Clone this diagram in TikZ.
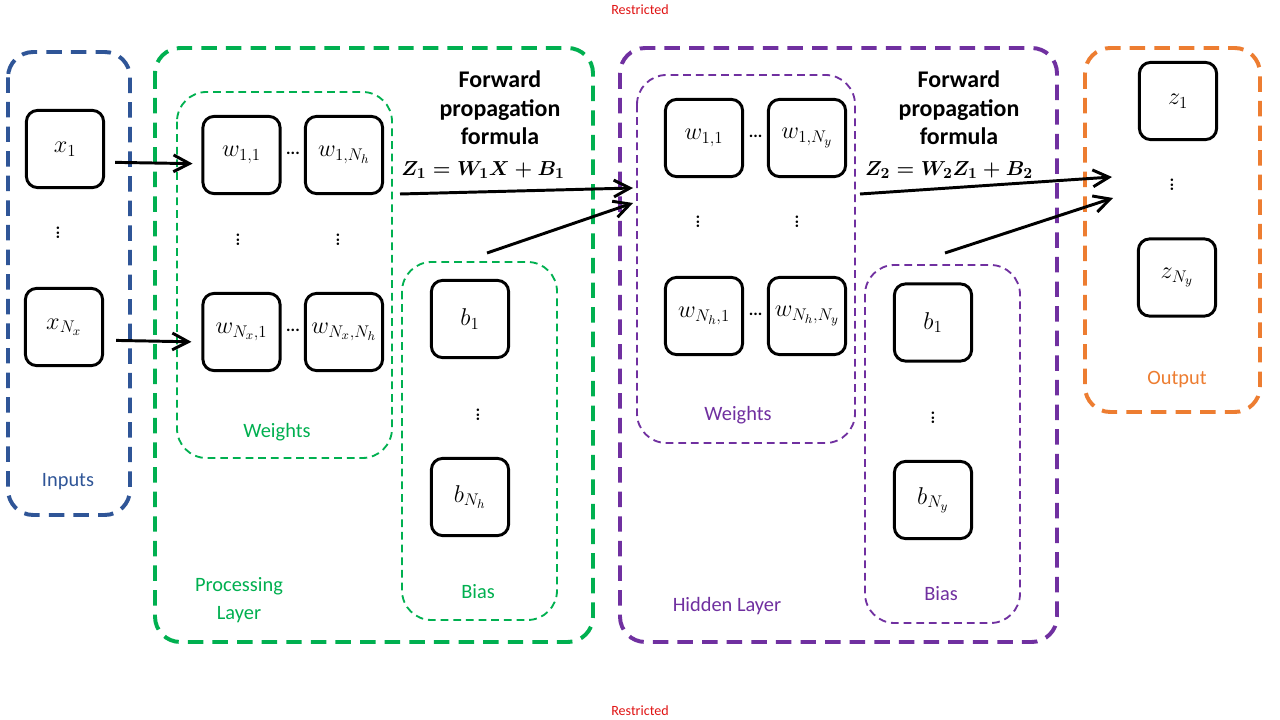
\documentclass[tikz,border=0pt]{standalone}
\usepackage{amssymb,amsmath}
\usepackage{xcolor}
\usepackage{fontspec}
\setmainfont{Carlito}
\usetikzlibrary{arrows.meta}
\definecolor{Azul}{RGB}{47, 85, 151}
\definecolor{Verde}{RGB}{0, 176, 80}
\definecolor{Morado}{RGB}{112, 48, 160}
\definecolor{Naranja}{RGB}{237, 125, 49}
\definecolor{Rojo}{RGB}{225, 20, 20}

\tikzset{
  caja/.style={draw=black, line width=2.1pt, rounded corners=8pt, minimum size=1.93cm, inner sep=0pt, font=\fontsize{18.5}{21}\selectfont},
  capa/.style={line width=2.8pt, dash pattern=on 11pt off 6.5pt, rounded corners=18pt},
  grupo/.style={line width=1.3pt, dash pattern=on 5.5pt off 3.5pt, rounded corners=21pt},
  etiqueta/.style={font=\fontsize{14.5}{20}\selectfont, align=center},
  formula/.style={font=\bfseries\fontsize{17}{20.3}\selectfont, align=center},
  ecuacion/.style={font=\fontsize{15.3}{18}\selectfont},
  puntos/.style={font=\bfseries\fontsize{12}{12}\selectfont, inner sep=0pt},
  flecha/.style={line width=2.1pt, -{Straight Barb[length=0.4cm,width=0.42cm]}}
}

\begin{document}
\begin{tikzpicture}[x=0.025cm, y=-0.025cm]
            \fill[white] (0,0) rectangle (1280,720);
            \useasboundingbox (0,0) rectangle (1280,720);
            \node[font=\fontsize{10}{12}\selectfont, text=Rojo] (R1) at (640,10) {Restricted};
            \node[font=\fontsize{10}{12}\selectfont, text=Rojo] (R2) at (640,711) {Restricted};
            %Entradas
            \draw[capa, draw=Azul] (8,52) rectangle (130,515);
            \node[caja] (X1) at (65,149) {$x_1$};
            \node[caja] (XN) at (64,327) {$x_{N_x}$};
            \node[puntos, rotate=90] (XP) at (58,233) {...};
            \node[etiqueta, text=Azul] (LI) at (68,482) {Inputs};
            %Capa de procesamiento
            \draw[capa, draw=Verde] (155,48) rectangle (593,642);
            \draw[grupo, draw=Verde] (177,92) rectangle (392,458);
            \draw[grupo, draw=Verde] (402,262) rectangle (557,620);
            \node[caja] (A) at (241.5,155) {$w_{1,1}$};
            \node[caja] (B) at (344,155) {$w_{1,N_h}$};
            \node[caja] (C) at (241.5,332) {$w_{N_x,1}$};
            \node[caja] (D) at (344,332) {$w_{N_x,N_h}$};
            \node[puntos] (AB) at (293,153) {...};
            \node[puntos] (CD) at (293,330) {...};
            \node[puntos, rotate=90] (AC) at (238,240) {...};
            \node[puntos, rotate=90] (BD) at (338,240) {...};
            \node[caja] (E) at (470,319) {$b_1$};
            \node[caja] (F) at (470,497) {$b_{N_h}$};
            \node[puntos, rotate=90] (EF) at (478,415) {...};
            \node[etiqueta, text=Verde] (LW1) at (277,432) {Weights};
            \node[etiqueta, text=Verde] (LB1) at (478,592) {Bias};
            \node[etiqueta, text=Verde] (LP) at (239,600) {Processing\\Layer};
            \node[formula] (T1) at (500,108) {Forward\\propagation\\formula};
            \node[ecuacion] (F1) at (483,170) {$\boldsymbol{Z_1 = W_1X + B_1}$};
            %Capa oculta
            \draw[capa, draw=Morado] (620,48) rectangle (1057,642);
            \draw[grupo, draw=Morado] (637,75) rectangle (855,443);
            \draw[grupo, draw=Morado] (865,265) rectangle (1020,623);
            \node[caja] (G) at (704,138) {$w_{1,1}$};
            \node[caja] (H) at (807,138) {$w_{1,N_y}$};
            \node[caja] (I) at (704,316) {$w_{N_h,1}$};
            \node[caja] (J) at (807,316) {$w_{N_h,N_y}$};
            \node[puntos] (GH) at (755.5,136) {...};
            \node[puntos] (IJ) at (755.5,314) {...};
            \node[puntos, rotate=90] (GI) at (698,222) {...};
            \node[puntos, rotate=90] (HJ) at (797,222) {...};
            \node[caja] (K) at (933,322.5) {$b_1$};
            \node[caja] (L) at (933,500) {$b_{N_y}$};
            \node[puntos, rotate=90] (KL) at (933,418) {...};
            \node[etiqueta, text=Morado] (LW2) at (738,415) {Weights};
            \node[etiqueta, text=Morado] (LB2) at (941,594) {Bias};
            \node[etiqueta, text=Morado] (LH) at (727,606) {Hidden Layer};
            \node[formula] (T2) at (959,108) {Forward\\propagation\\formula};
            \node[ecuacion] (F2) at (949,170) {$\boldsymbol{Z_2 = W_2Z_1 + B_2}$};
            %Salida
            \draw[capa, draw=Naranja] (1085,48) rectangle (1260,412);
            \node[caja] (M) at (1178,101) {$z_1$};
            \node[caja] (N) at (1177,277.5) {$z_{N_y}$};
            \node[puntos, rotate=90] (MN) at (1172,185) {...};
            \node[etiqueta, text=Naranja] (LO) at (1177,380) {Output};
            %Flechas
            \coordinate (P1) at (400,194);
            \coordinate (Q1) at (633,188);
            \coordinate (P2) at (487,253);
            \coordinate (Q2) at (633,203);
            \coordinate (P3) at (860,194);
            \coordinate (Q3) at (1112,177);
            \coordinate (P4) at (945,253);
            \coordinate (Q4) at (1113,198);
            \draw[flecha, shorten <=0.25cm, shorten >=0.22cm] ([yshift=-0.33cm]X1.east) -- ([yshift=-0.22cm]A.west);
            \draw[flecha, shorten <=0.3cm, shorten >=0.25cm] ([yshift=-0.33cm]XN.east) -- ([yshift=-0.25cm]C.west);
            \draw[flecha] (P1) -- (Q1);
            \draw[flecha] (P2) -- (Q2);
            \draw[flecha] (P3) -- (Q3);
            \draw[flecha] (P4) -- (Q4);
        \end{tikzpicture}
\end{document}
